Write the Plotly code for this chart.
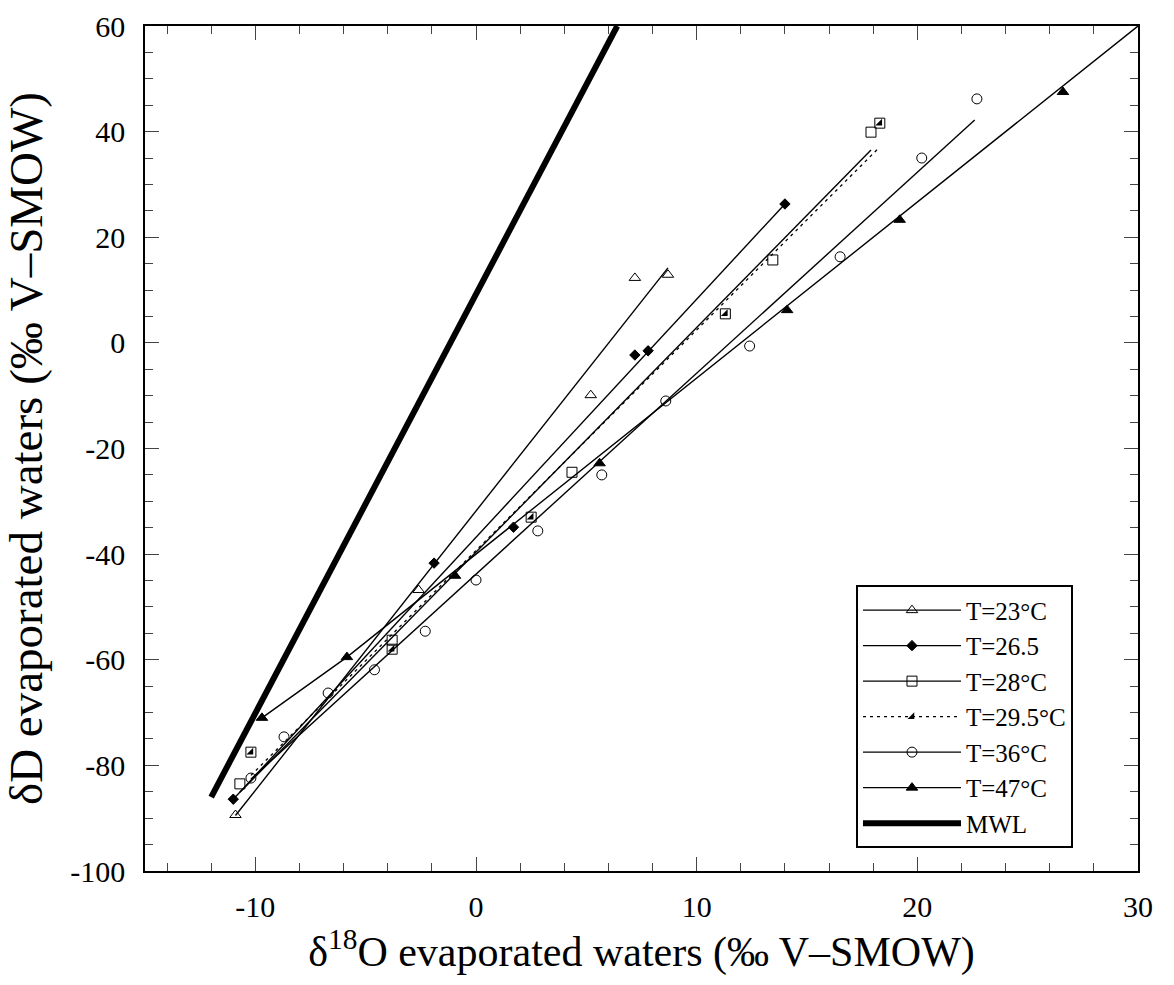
import plotly.graph_objects as go

# ---------------- data ----------------
t23_x = [-10.9, -2.6, 5.2, 7.2, 8.7]
t23_y = [-89.4, -46.8, -9.9, 12.3, 12.9]
t23_fit_x = [-10.9, 8.7]
t23_fit_y = [-89.5, 14.2]

t265_x = [-11.0, -1.9, 1.7, 7.2, 7.8, 14.0]
t265_y = [-86.4, -41.7, -34.9, -2.3, -1.5, 26.3]
t265_fit_x = [-11.0, 14.0]
t265_fit_y = [-86.4, 26.3]

t28_x = [-10.7, -3.8, 4.35, 13.45, 17.9]
t28_y = [-83.5, -56.3, -24.5, 15.7, 39.9]
t28_fit_x = [-10.7, 17.9]
t28_fit_y = [-85.1, 36.5]

t295_x = [-10.2, -3.8, 2.5, 11.3, 18.3]
t295_y = [-77.5, -58.0, -33.0, 5.5, 41.6]
t295_fit_x = [-10.2, 18.3]
t295_fit_y = [-81.9, 37.1]

t36_x = [-10.2, -8.7, -6.7, -4.6, -2.3, 0.0, 2.8, 5.7, 8.6, 12.4, 16.5, 20.2, 22.7]
t36_y = [-82.4, -74.6, -66.3, -61.9, -54.6, -44.9, -35.6, -25.0, -11.0, -0.6, 16.3, 35.0, 46.2]
t36_fit_x = [-10.2, 22.6]
t36_fit_y = [-82.6, 42.2]

t47_x = [-9.7, -5.85, -0.95, 5.6, 14.1, 19.2, 26.6]
t47_y = [-71.0, -59.5, -44.1, -22.8, 6.2, 23.3, 47.5]
t47_fit_x = [-9.7, -5.85, 30.0]
t47_fit_y = [-71.0, -59.5, 60.0]

mwl_x = [-12.0, 6.4]
mwl_y = [-86.0, 60.0]

series_names = ["T=23°C", "T=26.5", "T=28°C", "T=29.5°C", "T=36°C", "T=47°C", "MWL"]

x_tick_vals = [-10, 0, 10, 20, 30]
x_tick_text = ["-10", "0", "10", "20", "30"]
y_tick_vals = [-100, -80, -60, -40, -20, 0, 20, 40, 60]
y_tick_text = ["-100", "-80", "-60", "-40", "-20", "0", "20", "40", "60"]

# ---------------- helpers ----------------
FONT = "Liberation Serif"


def gapped(vals):
    """Separate values by None so that no line joins consecutive points."""
    out = []
    for i, v in enumerate(vals):
        if i:
            out.append(None)
        out.append(v)
    return out


fig = go.Figure()


def add_series(name, xs, ys, fx, fy, symbol, size, dash="solid"):
    # fitted line (no legend)
    fig.add_trace(go.Scatter(x=fx, y=fy, mode="lines", showlegend=False,
                             line=dict(color="black", width=1.4, dash=dash),
                             hoverinfo="skip"))
    # points (legend carrier: line + marker)
    fig.add_trace(go.Scatter(x=gapped(xs), y=gapped(ys), mode="lines+markers",
                             name=name, connectgaps=False,
                             line=dict(color="black", width=1.4, dash=dash),
                             marker=dict(symbol=symbol, size=size, color="black",
                                         line=dict(color="black", width=1))))


add_series(series_names[0], t23_x, t23_y, t23_fit_x, t23_fit_y, "triangle-up-open", 10)
add_series(series_names[1], t265_x, t265_y, t265_fit_x, t265_fit_y, "diamond", 8)
add_series(series_names[2], t28_x, t28_y, t28_fit_x, t28_fit_y, "square-open", 10)

# T=29.5 : half-filled square = open square + black lower-right triangle
fig.add_trace(go.Scatter(x=t295_fit_x, y=t295_fit_y, mode="lines", showlegend=False,
                         line=dict(color="black", width=1.3, dash="3px,4px"),
                         hoverinfo="skip"))
fig.add_trace(go.Scatter(x=t295_x, y=t295_y, mode="markers", showlegend=False,
                         marker=dict(symbol="square-open", size=10, color="black",
                                     line=dict(color="black", width=1))))
fig.add_trace(go.Scatter(x=gapped(t295_x), y=gapped(t295_y), mode="lines+markers",
                         name=series_names[3], connectgaps=False,
                         line=dict(color="black", width=1.3, dash="3px,4px"),
                         marker=dict(symbol="triangle-se", size=7.5, color="black",
                                     line=dict(width=0))))

add_series(series_names[4], t36_x, t36_y, t36_fit_x, t36_fit_y, "circle-open", 10)
add_series(series_names[5], t47_x, t47_y, t47_fit_x, t47_fit_y, "triangle-up", 10)

fig.add_trace(go.Scatter(x=mwl_x, y=mwl_y, mode="lines", name=series_names[6],
                         line=dict(color="black", width=6)))

axis_common = dict(
    showline=True, linecolor="black", linewidth=1.5, mirror="ticks",
    ticks="inside", ticklen=14, tickwidth=1, tickcolor="#444",
    showgrid=False, zeroline=False,
    tickfont=dict(family=FONT, size=30, color="black"),
)

fig.update_xaxes(
    range=[-15, 30], tickmode="array", tickvals=x_tick_vals, ticktext=x_tick_text,
    minor=dict(ticks="inside", ticklen=8, dtick=2, tick0=0, tickcolor="#444", tickwidth=1),
    ticklabelstandoff=8,
    title=dict(text="δ<sup>18</sup>O evaporated waters (‰ V–SMOW)",
               font=dict(family=FONT, size=42, color="black"), standoff=3),
    **axis_common,
)
fig.update_yaxes(
    range=[-100, 60], tickmode="array", tickvals=y_tick_vals, ticktext=y_tick_text,
    minor=dict(ticks="inside", ticklen=8, dtick=5, tick0=0, tickcolor="#444", tickwidth=1),
    ticklabelstandoff=12,
    title=dict(text="δD evaporated waters (‰ V–SMOW)",
               font=dict(family=FONT, size=47, color="black"), standoff=14),
    **axis_common,
)

fig.update_layout(
    width=1174, height=985,
    margin=dict(l=145, r=36, t=26, b=114, autoexpand=False),
    paper_bgcolor="white", plot_bgcolor="white",
    font=dict(family=FONT, color="black"),
    legend=dict(x=0.716, y=0.338, xanchor="left", yanchor="top",
                bordercolor="black", borderwidth=2, bgcolor="white",
                font=dict(family=FONT, size=25, color="black"),
                itemsizing="trace", itemwidth=98, tracegroupgap=0),
    showlegend=True,
)

fig.write_html("out.html")
